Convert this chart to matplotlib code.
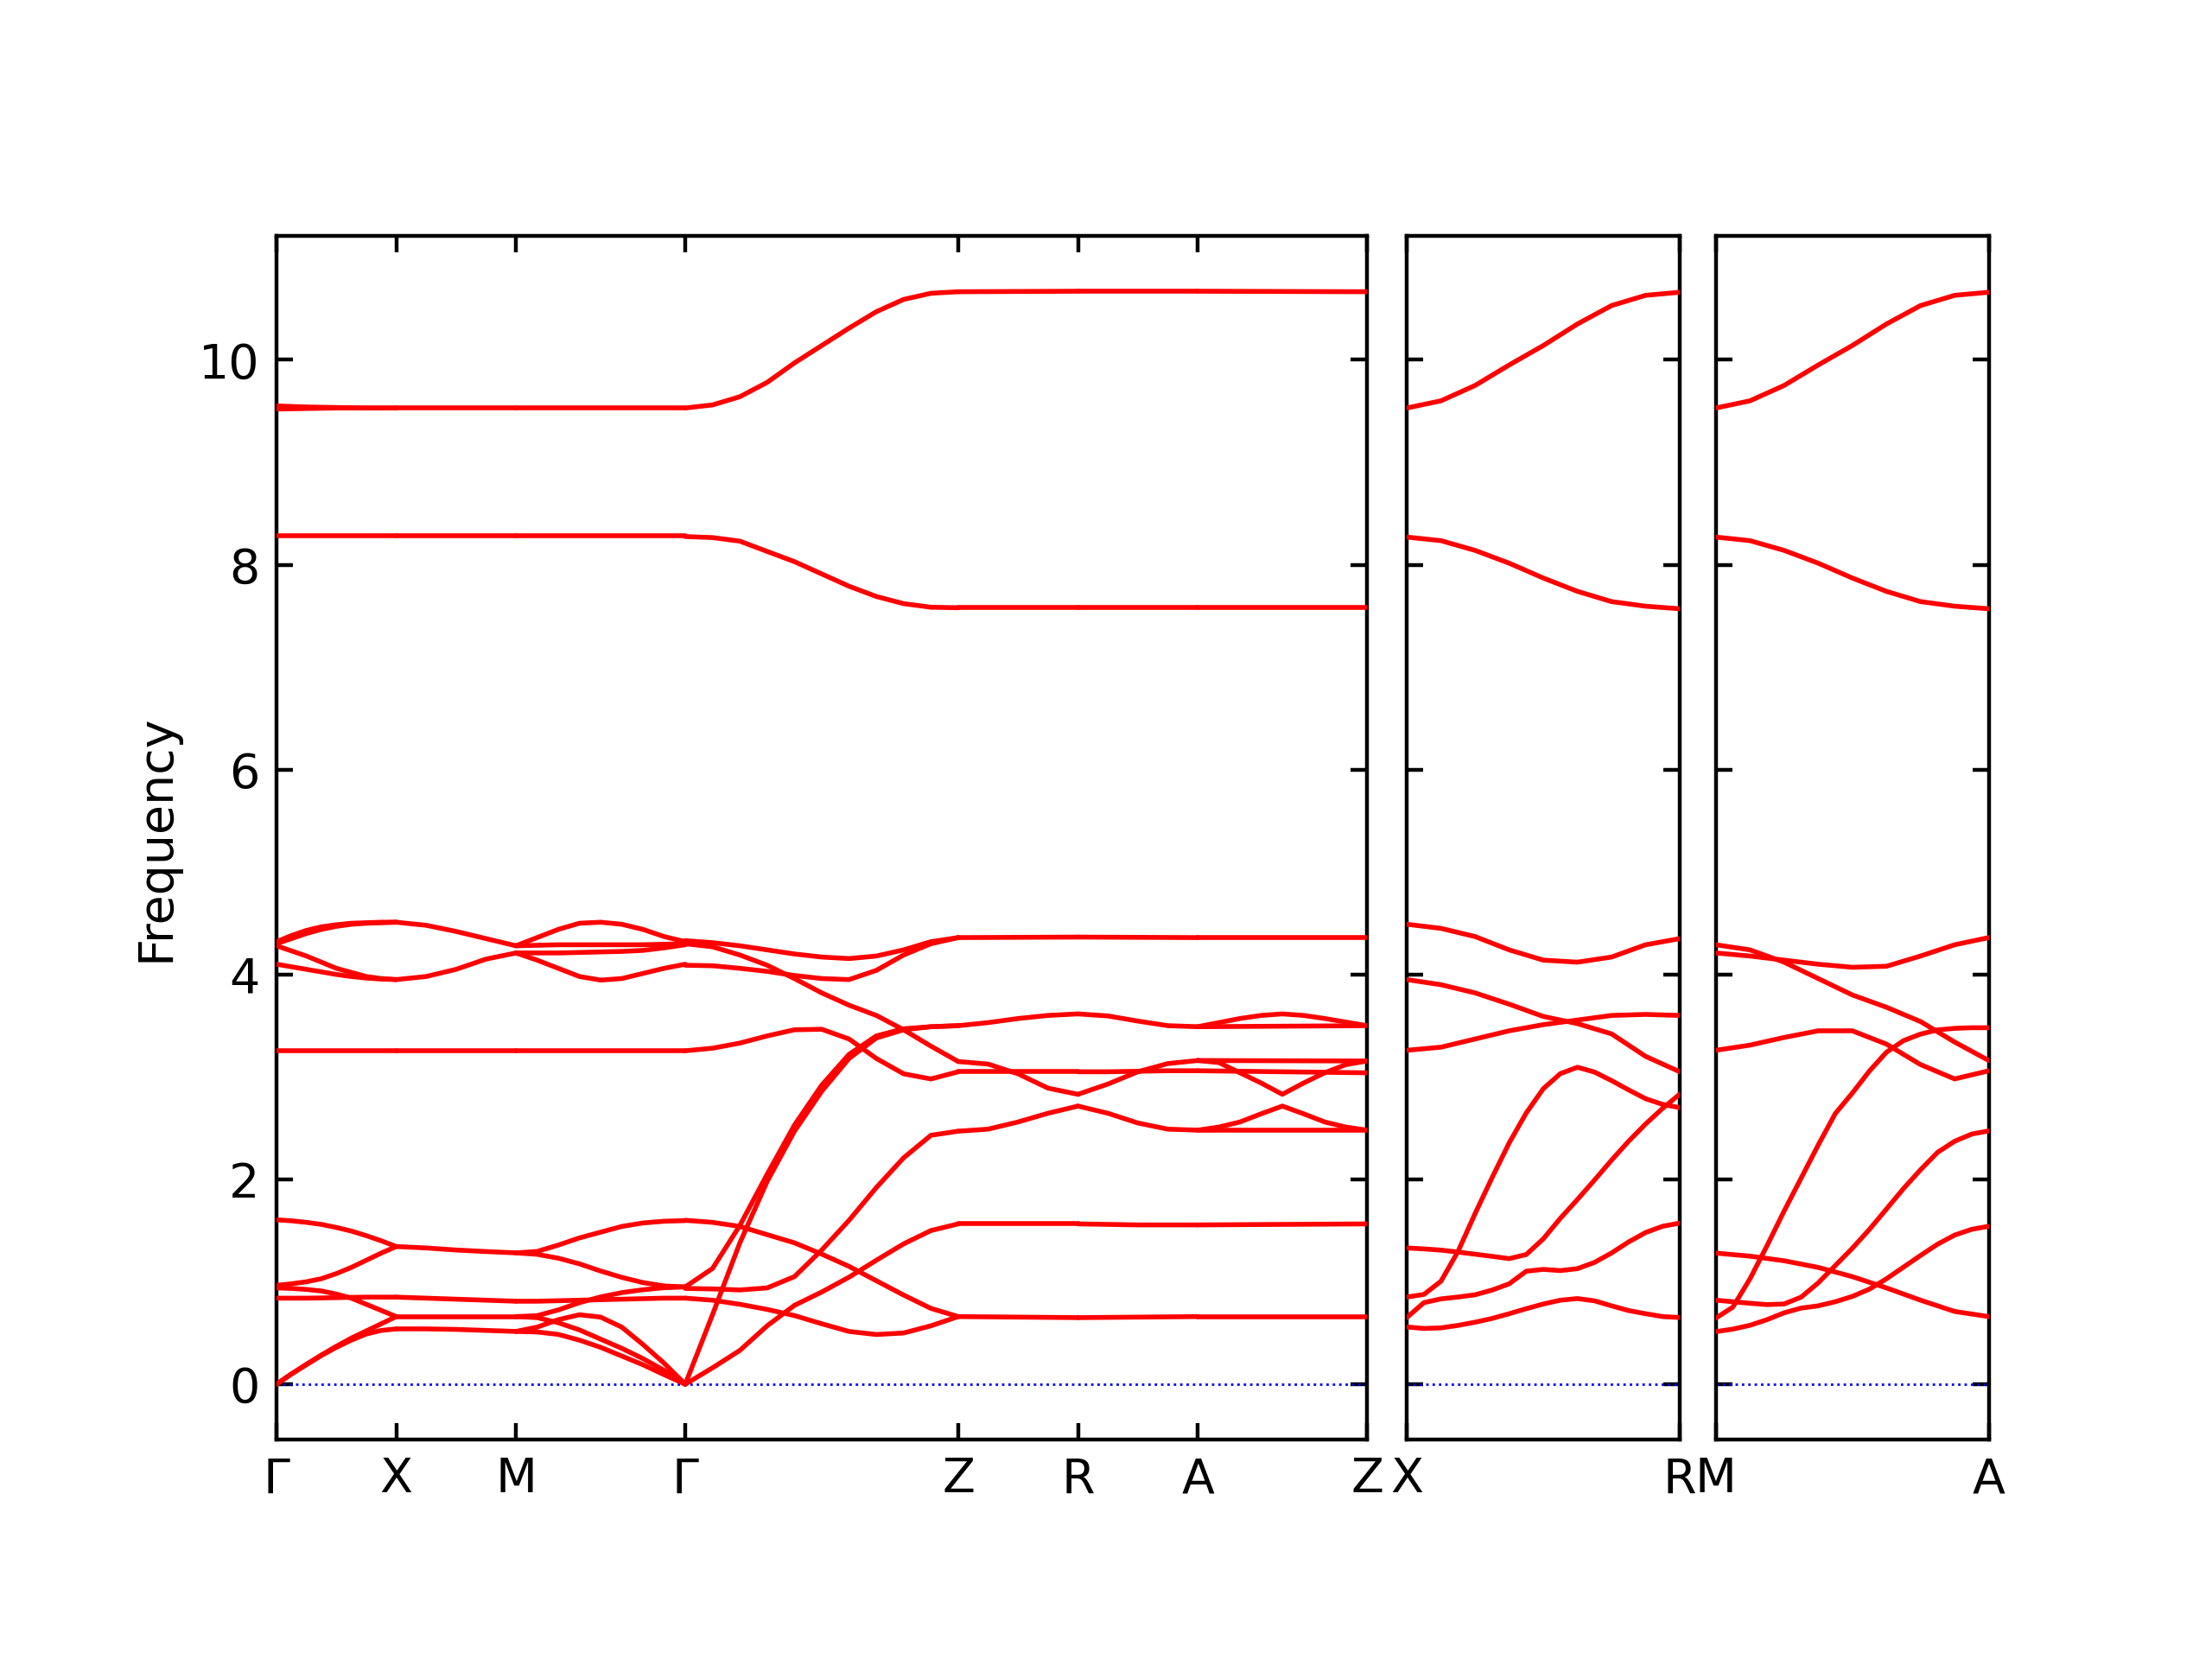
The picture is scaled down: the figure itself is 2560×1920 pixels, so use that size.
import numpy as np
import matplotlib

matplotlib.use("Agg")
import matplotlib.pyplot as plt

# path lengths in units of |Gamma-X|; Gamma-Z (= X-R = M-A)
C_LEN = 2.28
MAIN_LABELS = ["Γ", "X", "M", "Γ", "Z", "R", "A", "Z"]
MAIN_SEG_LEN = [1.0, 1.0, np.sqrt(2), C_LEN, 1.0, 1.0, np.sqrt(2)]
XR_LABELS = ["X", "R"]
MA_LABELS = ["M", "A"]

# band frequencies per segment, sampled evenly from start to end point of the segment
GX = [
    [9.55, 9.54, 9.535, 9.53, 9.53],
    [9.52, 9.525, 9.53, 9.53, 9.53],
    [8.28, 8.28],
    [4.32, 4.38, 4.43, 4.465, 4.485, 4.50, 4.505, 4.51, 4.51],
    [4.30, 4.35, 4.40, 4.44, 4.47, 4.49, 4.50, 4.505, 4.51],
    [4.28, 4.23, 4.18, 4.12, 4.06, 4.02, 3.98, 3.96, 3.95],
    [4.10, 4.075, 4.05, 4.025, 4.0, 3.98, 3.965, 3.955, 3.95],
    [3.258, 3.258],
    [1.605, 1.595, 1.58, 1.56, 1.53, 1.495, 1.45, 1.40, 1.344],
    [0.965, 0.98, 1.0, 1.03, 1.08, 1.14, 1.21, 1.28, 1.344],
    [0.94, 0.935, 0.925, 0.91, 0.88, 0.84, 0.78, 0.72, 0.66],
    [0.84, 0.84, 0.84, 0.842, 0.845, 0.848, 0.85, 0.85, 0.85],
    [0.0, 0.10, 0.195, 0.285, 0.37, 0.45, 0.52, 0.59, 0.66],
    [0.0, 0.10, 0.19, 0.28, 0.36, 0.43, 0.49, 0.525, 0.54],
]
XM = [
    [9.53, 9.53],
    [8.28, 8.28],
    [4.51, 4.48, 4.42, 4.35, 4.28],
    [3.95, 3.98, 4.05, 4.15, 4.21],
    [3.258, 3.258],
    [1.344, 1.33, 1.31, 1.295, 1.282],
    [0.85, 0.84, 0.83, 0.82, 0.81],
    [0.66, 0.66, 0.66, 0.66, 0.66],
    [0.54, 0.54, 0.535, 0.525, 0.515],
]
MG = [
    [9.53, 9.53],
    [8.28, 8.28],
    [4.28, 4.36, 4.44, 4.50, 4.51, 4.49, 4.44, 4.37, 4.32],
    [4.28, 4.285, 4.29, 4.29, 4.29, 4.29, 4.29, 4.295, 4.30],
    [4.21, 4.14, 4.06, 3.98, 3.945, 3.96, 4.01, 4.06, 4.10],
    [4.21, 4.21, 4.21, 4.215, 4.22, 4.225, 4.235, 4.26, 4.29],
    [3.258, 3.258],
    [1.282, 1.296, 1.358, 1.428, 1.484, 1.54, 1.574, 1.591, 1.597],
    [1.282, 1.268, 1.23, 1.175, 1.105, 1.043, 0.992, 0.959, 0.95],
    [0.66, 0.669, 0.725, 0.796, 0.852, 0.894, 0.922, 0.942, 0.95],
    [0.81, 0.81, 0.815, 0.82, 0.825, 0.83, 0.835, 0.84, 0.84],
    [0.66, 0.65, 0.60, 0.53, 0.44, 0.35, 0.25, 0.135, 0.0],
    [0.515, 0.557, 0.63, 0.678, 0.655, 0.557, 0.388, 0.205, 0.0],
    [0.515, 0.51, 0.486, 0.43, 0.36, 0.275, 0.19, 0.093, 0.0],
]
GZ = [
    [9.53, 9.56, 9.64, 9.78, 9.97, 10.14, 10.31, 10.47, 10.59, 10.65, 10.665],
    [8.275, 8.265, 8.23, 8.13, 8.03, 7.91, 7.79, 7.69, 7.62, 7.585, 7.58],
    [4.33, 4.31, 4.28, 4.24, 4.20, 4.17, 4.155, 4.18, 4.24, 4.32, 4.36],
    [4.09, 4.085, 4.06, 4.03, 3.99, 3.96, 3.95, 4.04, 4.19, 4.30, 4.36],
    [4.30, 4.27, 4.19, 4.09, 3.96, 3.82, 3.70, 3.60, 3.46, 3.30, 3.15],
    [3.255, 3.28, 3.33, 3.40, 3.46, 3.465, 3.37, 3.18, 3.03, 2.98, 3.05],
    [0.0, 0.68, 1.38, 1.98, 2.47, 2.86, 3.18, 3.38, 3.46, 3.49, 3.50],
    [0.95, 1.13, 1.55, 2.05, 2.53, 2.92, 3.22, 3.40, 3.47, 3.49, 3.50],
    [0.935, 0.93, 0.92, 0.94, 1.05, 1.31, 1.60, 1.92, 2.21, 2.43, 2.47],
    [0.0, 0.16, 0.33, 0.57, 0.77, 0.90, 1.045, 1.21, 1.37, 1.50, 1.565],
    [1.60, 1.58, 1.54, 1.46, 1.38, 1.27, 1.15, 1.01, 0.87, 0.74, 0.66],
    [0.84, 0.82, 0.78, 0.73, 0.67, 0.59, 0.515, 0.485, 0.50, 0.57, 0.66],
]
ZR = [
    [10.665, 10.67],
    [7.58, 7.58],
    [4.36, 4.365],
    [3.50, 3.53, 3.57, 3.60, 3.615],
    [3.15, 3.125, 3.03, 2.89, 2.83],
    [3.05, 3.05, 3.05, 3.05, 3.05],
    [2.47, 2.49, 2.56, 2.645, 2.715],
    [1.565, 1.565, 1.565],
    [0.66, 0.655, 0.65],
]
RA = [
    [10.67, 10.67],
    [7.58, 7.58],
    [4.365, 4.36],
    [3.615, 3.595, 3.545, 3.50, 3.49],
    [2.83, 2.93, 3.05, 3.13, 3.16],
    [3.05, 3.05, 3.055, 3.06, 3.06],
    [2.715, 2.645, 2.55, 2.49, 2.48],
    [1.565, 1.555, 1.555],
    [0.65, 0.655, 0.66],
]
AZ = [
    [10.67, 10.665],
    [7.58, 7.58],
    [4.36, 4.36],
    [3.49, 3.53, 3.57, 3.60, 3.615, 3.60, 3.57, 3.535, 3.50],
    [3.49, 3.50],
    [3.16, 3.14, 3.04, 2.94, 2.83, 2.94, 3.04, 3.12, 3.155],
    [3.16, 3.155],
    [3.06, 3.04],
    [2.48, 2.51, 2.56, 2.64, 2.715, 2.64, 2.56, 2.51, 2.48],
    [2.48, 2.48],
    [1.555, 1.565],
    [0.66, 0.66],
]
XR = [
    [9.53, 9.60, 9.75, 9.95, 10.14, 10.35, 10.53, 10.63, 10.66],
    [8.27, 8.235, 8.14, 8.015, 7.87, 7.74, 7.64, 7.595, 7.57],
    [4.49, 4.45, 4.37, 4.24, 4.14, 4.12, 4.17, 4.29, 4.35],
    [3.95, 3.90, 3.82, 3.71, 3.59, 3.52, 3.42, 3.20, 3.05],
    [3.26, 3.29, 3.37, 3.45, 3.51, 3.555, 3.60, 3.61, 3.60],
    [0.851, 0.876, 1.005, 1.296, 1.665, 2.018, 2.356, 2.648, 2.885,
     3.032, 3.094, 3.047, 2.964, 2.873, 2.787, 2.731, 2.70],
    [1.33, 1.321, 1.309, 1.29, 1.269, 1.248, 1.226, 1.266, 1.419,
     1.62, 1.803, 1.993, 2.187, 2.372, 2.541, 2.694, 2.832],
    [0.651, 0.796, 0.833, 0.851, 0.873, 0.919, 0.98, 1.103, 1.121,
     1.109, 1.128, 1.189, 1.281, 1.389, 1.481, 1.542, 1.573],
    [0.559, 0.544, 0.55, 0.574, 0.605, 0.642, 0.688, 0.737, 0.783,
     0.82, 0.836, 0.814, 0.765, 0.719, 0.688, 0.66, 0.651],
]
MA = [
    [9.53, 9.60, 9.75, 9.95, 10.14, 10.35, 10.53, 10.63, 10.66],
    [8.27, 8.235, 8.14, 8.015, 7.87, 7.74, 7.64, 7.595, 7.57],
    [4.29, 4.24, 4.12, 3.96, 3.80, 3.68, 3.54, 3.34, 3.16],
    [4.21, 4.18, 4.14, 4.10, 4.07, 4.08, 4.18, 4.29, 4.36],
    [3.26, 3.31, 3.385, 3.45, 3.45, 3.32, 3.12, 2.98, 3.06],
    [0.645, 0.753, 1.029, 1.352, 1.69, 2.012, 2.335, 2.642, 2.842,
     3.057, 3.241, 3.354, 3.418, 3.459, 3.474, 3.48, 3.48],
    [0.82, 0.805, 0.79, 0.777, 0.783, 0.85, 0.989, 1.158, 1.327,
     1.511, 1.71, 1.91, 2.094, 2.264, 2.372, 2.442, 2.473],
    [0.513, 0.538, 0.575, 0.63, 0.697, 0.743, 0.765, 0.805, 0.857,
     0.928, 1.029, 1.143, 1.257, 1.367, 1.456, 1.512, 1.542],
    [1.28, 1.25, 1.205, 1.14, 1.05, 0.94, 0.82, 0.71, 0.66],
]

Y_TICKS = [0, 2, 4, 6, 8, 10]
Y_LIM = (-0.54, 11.21)


def draw_segment(ax, x0, length, bands):
    for vals in bands:
        xs = x0 + np.linspace(0.0, 1.0, len(vals)) * length
        ax.plot(xs, vals, color="red", lw=1.0,
                solid_capstyle="round", solid_joinstyle="round", zorder=3)


def style_axes(ax, xticks, labels, show_y):
    ax.axhline(0, color="blue", ls=":", lw=0.5, zorder=2)
    ax.set_xlim(xticks[0], xticks[-1])
    ax.set_ylim(*Y_LIM)
    ax.set_xticks(xticks)
    ax.set_xticklabels(labels)
    ax.set_yticks(Y_TICKS)
    if not show_y:
        ax.set_yticklabels([])
    ax.tick_params(direction="in", top=True, right=True, labelsize=10)


plt.rcParams["font.family"] = ["DejaVu Sans"]
fig = plt.figure(figsize=(6.4, 4.8), dpi=400)

main_len = sum(MAIN_SEG_LEN)
unit = 0.493 / main_len
bottom, height = 0.1323, 0.7255
ax_main = fig.add_axes([0.125, bottom, main_len * unit, height])
ax_xr = fig.add_axes([0.636, bottom, C_LEN * unit, height])
ax_ma = fig.add_axes([0.7757, bottom, C_LEN * unit, height])

# main path  Γ-X-M-Γ-Z-R-A-Z
starts = np.concatenate([[0.0], np.cumsum(MAIN_SEG_LEN)])
for x0, length, bands in zip(starts[:-1], MAIN_SEG_LEN, [GX, XM, MG, GZ, ZR, RA, AZ]):
    draw_segment(ax_main, x0, length, bands)
style_axes(ax_main, starts, MAIN_LABELS, True)
ax_main.set_ylabel("Frequency", fontsize=10)

# X-R and M-A
draw_segment(ax_xr, 0.0, C_LEN, XR)
style_axes(ax_xr, [0.0, C_LEN], XR_LABELS, False)
draw_segment(ax_ma, 0.0, C_LEN, MA)
style_axes(ax_ma, [0.0, C_LEN], MA_LABELS, False)

fig.savefig("out.png", dpi=400)
plt.close(fig)
